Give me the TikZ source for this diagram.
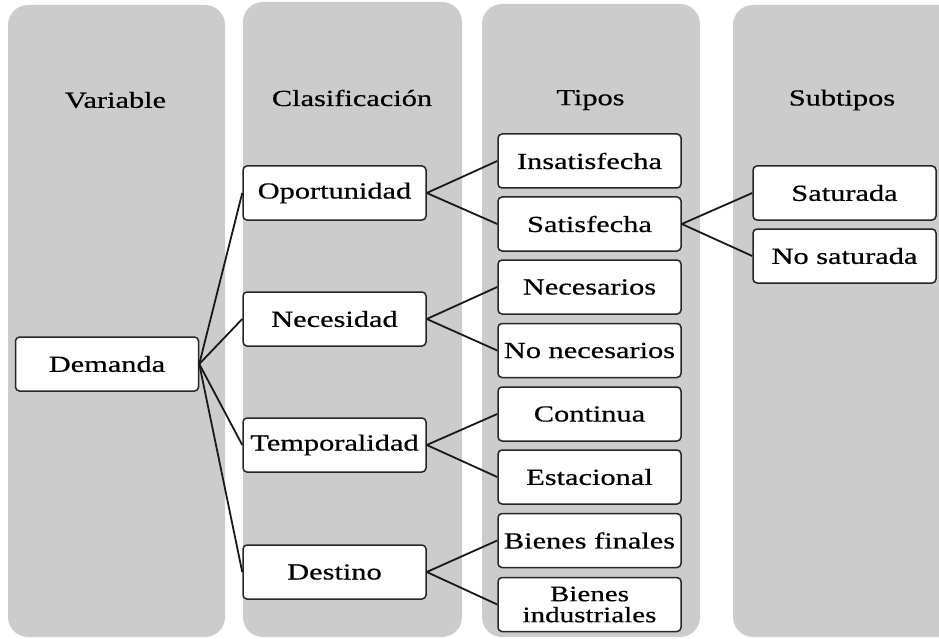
\documentclass[tikz,border=0pt]{standalone}
\usepackage{fontspec}
\setmainfont[FakeStretch=1.32,FakeBold=0.6]{Liberation Serif}
\begin{document}
\begin{tikzpicture}[x=1pt,y=-1pt,
  colbg/.style={fill=gray!40, draw=none, rounded corners=20pt},
  hdr/.style={font=\fontsize{23}{23}\selectfont, inner sep=0pt},
  box/.style={draw=black!85, fill=white, line width=1.5pt, rounded corners=4pt,
    minimum width=183pt, minimum height=54pt, inner sep=1pt, align=center,
    font=\fontsize{23}{21}\selectfont},
  link/.style={line width=1.8pt, draw=black!90}]
\useasboundingbox (0,0) rectangle (939,639);
\clip (0,0) rectangle (939,639);
\fill[colbg] (8,5) rectangle (225,637);
\fill[colbg] (243,2) rectangle (462,637);
\fill[colbg] (482,4) rectangle (700,637);
\fill[colbg] (733,5) rectangle (960,637);
\node[hdr] (hvar) at (115.5,100) {Variable};
\node[hdr] (hcla) at (352,98) {Clasificación};
\node[hdr] (htip) at (590.5,100) {Tipos};
\node[hdr] (hsub) at (842,100) {Subtipos};
\node[box] (dem) at (107,364) {Demanda};
\node[box] (opo) at (334.5,193) {Oportunidad};
\node[box] (nec) at (334.5,319) {Necesidad};
\node[box] (tem) at (334.5,445) {Temporalidad};
\node[box] (des) at (334.5,572) {Destino};
\node[box] (ins) at (589.5,161) {Insatisfecha};
\node[box] (sat) at (589.5,224) {Satisfecha};
\node[box] (ncs) at (589.5,287) {Necesarios};
\node[box] (nnc) at (589.5,350.5) {No necesarios};
\node[box] (con) at (589.5,414) {Continua};
\node[box] (est) at (589.5,477) {Estacional};
\node[box] (bfi) at (589.5,540.5) {Bienes finales};
\node[box, font=\fontsize{22}{21}\selectfont] (bin) at (589.5,604.5) {Bienes\\industriales};
\node[box] (stu) at (844.5,193) {Saturada};
\node[box] (nst) at (844.5,256) {No saturada};
\foreach \t in {opo,nec,tem,des} \draw[link] (dem.east) -- (\t.west);
\draw[link] (opo.east) -- (ins.west);
\draw[link] (opo.east) -- (sat.west);
\draw[link] (nec.east) -- (ncs.west);
\draw[link] (nec.east) -- (nnc.west);
\draw[link] (tem.east) -- (con.west);
\draw[link] (tem.east) -- (est.west);
\draw[link] (des.east) -- (bfi.west);
\draw[link] (des.east) -- (bin.west);
\draw[link] (sat.east) -- (stu.west);
\draw[link] (sat.east) -- (nst.west);
\end{tikzpicture}
\end{document}
